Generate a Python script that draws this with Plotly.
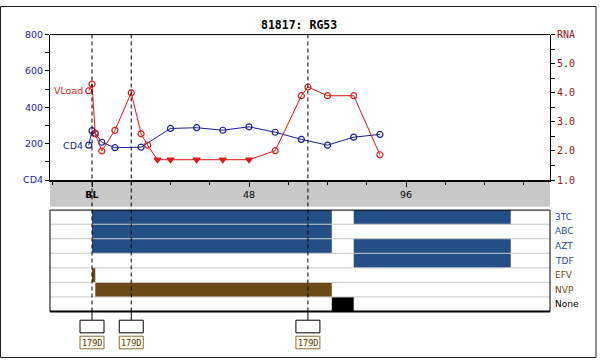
import plotly.graph_objects as go

# ---------------- data ----------------
title_text = "81817: RG53"

cd4_weeks = [-1, 0, 1, 3, 7, 15, 24, 32, 40, 48, 56, 64, 72, 80, 88]
cd4_vals = [192, 272, 257, 208, 178, 181, 284, 288, 274, 293, 263, 224, 192, 236, 251]

vl_weeks = [-1, 0, 1, 3, 7, 12, 15, 17, 20, 24, 32, 40, 48, 56, 64, 66, 72, 80, 88]
vl_vals = [4.07, 4.30, 2.59, 2.0, 2.71, 4.0, 2.59, 2.2, 1.7, 1.7, 1.7, 1.7, 1.7, 2.01, 3.9, 4.2, 3.9, 3.9, 1.87]
vl_below_limit = [False, False, False, False, False, False, False, False, True, True, True, True, True,
                  False, False, False, False, False, False]

x_major_ticks = [0, 48, 96]
x_major_text = ["<b>BL</b>", "48", "96"]
x_minor_ticks = [-12, 12, 24, 36, 60, 72, 84, 108, 120, 132]

cd4_tickvals = [0, 100, 200, 300, 400, 500, 600, 700, 800]
cd4_ticktext = ["CD4", "", "200", "", "400", "", "600", "", "800"]
rna_tickvals = [1, 1.5, 2, 2.5, 3, 3.5, 4, 4.5, 5, 5.5, 6]
rna_ticktext = ["1.0", "", "2.0", "", "3.0", "", "4.0", "", "5.0", "", "RNA"]

drugs = ["3TC", "ABC", "AZT", "TDF", "EFV", "NVP", "None"]
drug_class = ["nrti", "nrti", "nrti", "nrti", "nnrti", "nnrti", "none"]
seg_drug = ["3TC", "3TC", "ABC", "AZT", "AZT", "TDF", "EFV", "NVP", "None"]
seg_start = [0, 80, 0, 0, 80, 80, 0, 1, 73.3]
seg_end = [73.3, 128, 73.3, 73.3, 128, 128, 1, 73.3, 80]

mut_weeks = [0, 12, 66]
mut_labels = ["179D", "179D", "179D"]

# ---------------- styles ----------------
W, H = 600, 364
NAVY = "#1c1c96"
RED = "#dd1818"
MAROON = "#8b1a1a"
class_color = {"nrti": "#234F86", "nnrti": "#6B4A16", "none": "#000000"}
label_color = {"nrti": "#2a4f87", "nnrti": "#6b4a1a", "none": "#000000"}

def px_x(x):
    return x / W

def px_y(y):
    return 1 - y / H

X_RANGE = [-12.84, 140.0]
X_DOM = [px_x(50), px_x(550)]
TOP_DOM = [px_y(179.5), px_y(29.5)]
LOW_DOM = [px_y(315), px_y(210)]
SANS = "DejaVu Sans"
MONO = "DejaVu Sans Mono"

fig = go.Figure()

# CD4
fig.add_trace(go.Scatter(
    x=cd4_weeks, y=cd4_vals, xaxis="x", yaxis="y", mode="lines+markers",
    line=dict(color=NAVY, width=1),
    marker=dict(symbol="circle-open", size=6, color=NAVY, line=dict(width=1.2, color=NAVY)),
    showlegend=False, hoverinfo="skip"))

# Viral load
fig.add_trace(go.Scatter(
    x=vl_weeks, y=vl_vals, xaxis="x", yaxis="y2", mode="lines+markers",
    line=dict(color=RED, width=1),
    marker=dict(symbol=["triangle-down" if b else "circle-open" for b in vl_below_limit],
                size=6, color=RED, line=dict(width=1.2, color=RED)),
    showlegend=False, hoverinfo="skip"))

# treatment bars
row_of = {d: len(drugs) - 1 - i for i, d in enumerate(drugs)}
cls_of = dict(zip(drugs, drug_class))
for d in drugs:
    idx = [i for i, s in enumerate(seg_drug) if s == d]
    if not idx:
        continue
    fig.add_trace(go.Bar(
        orientation="h", xaxis="x2", yaxis="y3",
        y=[row_of[d]] * len(idx),
        base=[seg_start[i] for i in idx],
        x=[seg_end[i] - seg_start[i] for i in idx],
        width=1, marker=dict(color=class_color[cls_of[d]], line=dict(width=0)),
        showlegend=False, hoverinfo="skip"))

shapes = []
annotations = []

# outer border
shapes.append(dict(type="rect", xref="paper", yref="paper", x0=px_x(0.5), x1=px_x(596),
                   y0=px_y(362.5), y1=px_y(0.5), line=dict(color="#202020", width=1), layer="below"))
# gray band under the time axis
shapes.append(dict(type="rect", xref="paper", yref="paper", x0=X_DOM[0], x1=X_DOM[1],
                   y0=px_y(207), y1=px_y(180.5), fillcolor="#c8c8c8", line=dict(width=0), layer="below"))
# top plot frame (top line)
shapes.append(dict(type="line", xref="paper", yref="paper", x0=X_DOM[0], x1=X_DOM[1],
                   y0=px_y(29.5), y1=px_y(29.5), line=dict(color="black", width=1)))
# row separators in treatment panel
for k in range(1, len(drugs)):
    shapes.append(dict(type="line", xref="paper", yref="y3", x0=X_DOM[0], x1=X_DOM[1],
                       y0=-0.5 + k, y1=-0.5 + k, line=dict(color="#c8c8c8", width=1), layer="above"))
# treatment panel frame
shapes.append(dict(type="rect", xref="paper", yref="paper", x0=X_DOM[0], x1=X_DOM[1],
                   y0=px_y(315), y1=px_y(210.5), line=dict(color="black", width=1), layer="above"))
shapes.append(dict(type="line", xref="paper", yref="paper", x0=X_DOM[0], x1=X_DOM[1],
                   y0=px_y(315), y1=px_y(315), line=dict(color="black", width=2), layer="above"))

# mutation markers
for wk, lab in zip(mut_weeks, mut_labels):
    shapes.append(dict(type="line", xref="x", yref="paper", x0=wk, x1=wk,
                       y0=px_y(315), y1=px_y(29.5), line=dict(color="black", width=1, dash="4px,3px"),
                       layer="above"))
    shapes.append(dict(type="line", xref="x", yref="paper", x0=wk, x1=wk,
                       y0=px_y(324), y1=px_y(315), line=dict(color="black", width=1), layer="above"))
    shapes.append(dict(type="rect", xref="x", xsizemode="pixel", xanchor=wk, x0=-12, x1=12,
                       yref="paper", y0=px_y(337), y1=px_y(324),
                       fillcolor="white", line=dict(color="black", width=1), layer="above"))
    shapes.append(dict(type="rect", xref="x", xsizemode="pixel", xanchor=wk, x0=-12, x1=12,
                       yref="paper", y0=px_y(353.5), y1=px_y(340.5),
                       fillcolor="#fffdf0", line=dict(color="#8b6a3a", width=1), layer="above"))
    annotations.append(dict(x=wk, xref="x", y=px_y(347.5), yref="paper", text=lab, showarrow=False,
                            font=dict(family=MONO, size=8.5, color="#5b3b0b"),
                            xanchor="center", yanchor="middle"))

# drug labels
for d in drugs:
    annotations.append(dict(x=px_x(553), xref="paper", y=row_of[d], yref="y3", text=d, showarrow=False,
                            xanchor="left", yanchor="middle",
                            font=dict(family=SANS, size=9, color=label_color[cls_of[d]])))

# series labels
annotations.append(dict(x=vl_weeks[0], xref="x", y=vl_vals[0], yref="y2", text="VLoad", showarrow=False,
                        xanchor="right", yanchor="middle", xshift=-4,
                        font=dict(family=SANS, size=9.5, color=RED)))
annotations.append(dict(x=cd4_weeks[0], xref="x", y=cd4_vals[0], yref="y", text="CD4", showarrow=False,
                        xanchor="right", yanchor="middle", xshift=-4,
                        font=dict(family=SANS, size=9.5, color=NAVY)))

# title
annotations.append(dict(x=px_x(299), xref="paper", y=px_y(20), yref="paper", text="<b>" + title_text + "</b>",
                        showarrow=False, xanchor="center", yanchor="middle",
                        font=dict(family=MONO, size=11.5, color="black")))

fig.update_layout(
    width=W, height=H, margin=dict(l=0, r=0, t=0, b=0),
    paper_bgcolor="white", plot_bgcolor="white",
    barmode="overlay", showlegend=False,
    shapes=shapes, annotations=annotations,
    xaxis=dict(domain=X_DOM, range=X_RANGE, anchor="y", showgrid=False, zeroline=False,
               showline=True, linecolor="black", linewidth=2,
               ticks="outside", ticklen=5, tickwidth=1, tickcolor="black",
               tickvals=x_major_ticks, ticktext=x_major_text,
               tickfont=dict(family=SANS, size=9.5, color="black"),
               minor=dict(tickvals=x_minor_ticks, ticks="outside", ticklen=3, tickcolor="black", showgrid=False)),
    yaxis=dict(domain=TOP_DOM, range=[0, 800], anchor="x", showgrid=False, zeroline=False,
               showline=True, linecolor="black", linewidth=1,
               ticks="outside", ticklen=4, tickcolor="black",
               tickvals=cd4_tickvals, ticktext=cd4_ticktext,
               tickfont=dict(family=SANS, size=9.5, color=NAVY)),
    yaxis2=dict(domain=TOP_DOM, range=[1, 6], overlaying="y", anchor="x", side="right",
                showgrid=False, zeroline=False, showline=True, linecolor="black", linewidth=1,
                ticks="outside", ticklen=4, tickcolor="black",
                tickvals=rna_tickvals, ticktext=rna_ticktext,
                tickfont=dict(family=MONO, size=10, color=MAROON)),
    xaxis2=dict(domain=X_DOM, range=X_RANGE, anchor="y3", visible=False),
    yaxis3=dict(domain=LOW_DOM, range=[-0.5, 6.5], anchor="x2", visible=False),
)

fig.write_html("out.html")
